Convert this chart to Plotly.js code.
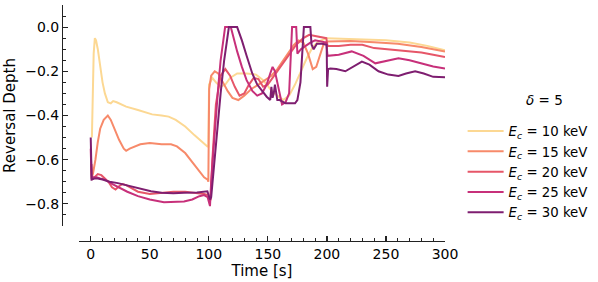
<!DOCTYPE html>
<html>
<head>
<meta charset="utf-8">
<script src="https://cdn.plot.ly/plotly-3.0.1.min.js"></script>
<style>html,body{margin:0;padding:0;background:#fff;}#chart{width:598px;height:282px;}</style>
</head>
<body>
<div id="chart"></div>
<script>
// ---- data ----
const seriesNames = ["<i>E</i><sub><i>c</i></sub> = 10 keV", "<i>E</i><sub><i>c</i></sub> = 15 keV", "<i>E</i><sub><i>c</i></sub> = 20 keV", "<i>E</i><sub><i>c</i></sub> = 25 keV", "<i>E</i><sub><i>c</i></sub> = 30 keV"];
const seriesColors = ["#fcd893", "#f78a6a", "#e65668", "#c7307a", "#7e1e70"];

const t10 = [1,1.5,2.5,3.5,4.5,6,8,10,12,14.5,17,19,22,26,30,40,52,60,66,72,80,88,94,98.8,99.6,100.2,103,106,110,114,118,124,132,140,146,152,158,163,168,173,178,183,188,193,200,215,230,250,270,285,300];
const v10 = [-0.5,-0.35,-0.12,-0.05,-0.06,-0.1,-0.18,-0.25,-0.3,-0.34,-0.345,-0.335,-0.34,-0.35,-0.36,-0.375,-0.395,-0.40,-0.405,-0.42,-0.45,-0.49,-0.52,-0.54,-0.54,-0.26,-0.23,-0.25,-0.27,-0.26,-0.23,-0.21,-0.21,-0.215,-0.24,-0.28,-0.31,-0.33,-0.31,-0.26,-0.2,-0.14,-0.09,-0.065,-0.05,-0.052,-0.055,-0.06,-0.07,-0.085,-0.105];

const t15 = [0.5,1,2,4,6,8,11,14.5,17,20,24,28,30,33,37,42,50,60,68,73,80,86,92,96,99,99.6,100.3,102,105,108,112,116,120,125,130,136,142,148,153,158,163,168,172,176,180,184,188,191,194,197,200,220,240,260,280,300];
const v15 = [-0.62,-0.68,-0.66,-0.6,-0.52,-0.46,-0.42,-0.40,-0.42,-0.46,-0.51,-0.55,-0.56,-0.55,-0.54,-0.53,-0.525,-0.53,-0.53,-0.54,-0.57,-0.61,-0.65,-0.68,-0.69,-0.70,-0.28,-0.22,-0.2,-0.21,-0.25,-0.29,-0.32,-0.33,-0.31,-0.28,-0.26,-0.24,-0.22,-0.19,-0.15,-0.11,-0.08,-0.06,-0.07,-0.12,-0.19,-0.18,-0.13,-0.08,-0.065,-0.063,-0.068,-0.075,-0.09,-0.11];

const t20 = [0.5,1,3,6,9,12,15,18,21,24,27,30,35,40,50,60,70,80,90,96,99.5,100.5,101.5,103,106,110,114,118,122,126,130,134,138,142,146,150,154,158,163,168,174,180,185,190,195,199.5,200.5,210,220,230,240,250,260,270,280,290,300];
const v20 = [-0.62,-0.69,-0.68,-0.665,-0.67,-0.685,-0.70,-0.725,-0.735,-0.72,-0.71,-0.715,-0.73,-0.745,-0.755,-0.75,-0.745,-0.745,-0.75,-0.755,-0.76,-0.79,-0.78,-0.6,-0.35,-0.22,-0.19,-0.22,-0.27,-0.31,-0.3,-0.26,-0.23,-0.235,-0.27,-0.26,-0.23,-0.2,-0.16,-0.12,-0.08,-0.05,-0.035,-0.04,-0.045,-0.05,-0.085,-0.085,-0.08,-0.08,-0.095,-0.1,-0.105,-0.11,-0.115,-0.125,-0.135];

const t25 = [0,0.7,2,5,8,12,18,25,31,40,50,62,70,79,86,92,96,99,101,102,104,106,108,110,112,113.8,118.6,121,124,128,132,137,141,145,149,152,154,156,159,162,165,168,170.5,174,175,178,182,186,190,195,199.5,200.5,210,221,231,241,250,260.6,270,280,290,300];
const v25 = [-0.55,-0.69,-0.68,-0.68,-0.685,-0.69,-0.71,-0.73,-0.745,-0.765,-0.78,-0.793,-0.792,-0.789,-0.78,-0.765,-0.76,-0.77,-0.81,-0.7,-0.55,-0.4,-0.27,-0.15,-0.06,0,0,-0.05,-0.11,-0.18,-0.24,-0.29,-0.31,-0.3,-0.26,-0.21,-0.18,-0.2,-0.28,-0.35,-0.34,-0.3,0,0,-0.12,-0.1,-0.085,-0.07,-0.06,-0.065,-0.07,-0.13,-0.125,-0.11,-0.13,-0.164,-0.155,-0.141,-0.15,-0.165,-0.178,-0.187];

const t30 = [0,0.8,3,6,10,16,23,30,40,51,60,70,79,90,98.8,100,101,102,104,107,110,113,116,117,124,128,132,136.8,141,145,149,152,153,154,155,156,157,158,160,165,173,175,177.6,179,180.5,186,187,188.8,191.5,196,199.8,200.2,201,203,208,215.6,222,229.6,236,243.7,252,260.6,267,274.7,282,290,300];
const v30 = [-0.5,-0.69,-0.685,-0.685,-0.69,-0.70,-0.706,-0.715,-0.73,-0.743,-0.75,-0.752,-0.75,-0.748,-0.743,-0.76,-0.78,-0.77,-0.65,-0.45,-0.3,-0.15,-0.05,0,0,-0.06,-0.13,-0.21,-0.26,-0.29,-0.315,-0.33,-0.27,-0.32,-0.3,-0.26,-0.3,-0.33,-0.33,-0.345,-0.345,-0.33,-0.25,-0.1,0,0,-0.08,-0.1,-0.075,-0.075,-0.08,-0.27,-0.19,-0.187,-0.19,-0.2,-0.18,-0.156,-0.17,-0.2,-0.215,-0.221,-0.21,-0.2,-0.21,-0.225,-0.227];

const xTickVals = [0, 50, 100, 150, 200, 250, 300];
const yTickVals = [0.0, -0.2, -0.4, -0.6, -0.8];
const legendTitle = "<i>δ</i> = 5";
const xTitle = "Time [s]";
const yTitle = "Reversal Depth";

// ---- build ----
const ts = [t10, t15, t20, t25, t30];
const vs = [v10, v15, v20, v25, v30];
const traces = ts.map((t, i) => ({
  x: t, y: vs[i], type: "scatter", mode: "lines",
  name: seriesNames[i], legendgroup: "g" + i,
  line: {color: seriesColors[i], width: 2}
}));

const FAM = "DejaVu Sans";
const f = (s) => ({family: FAM, size: s, color: "#000"});
const layout = {
  width: 598, height: 282,
  margin: {l: 62, r: 151, t: 5, b: 41},
  paper_bgcolor: "#fff", plot_bgcolor: "#fff",
  font: f(14),
  showlegend: true,
  legend: {
    x: 1.046, xanchor: "left", y: 0.53, yanchor: "top",
    font: f(13.3), itemwidth: 36,
    traceorder: "grouped", tracegroupgap: 0,
    bgcolor: "rgba(0,0,0,0)"
  },
  annotations: [{
    text: legendTitle, xref: "paper", yref: "paper",
    x: 1.26, y: (241 - 100) / 236, xanchor: "center", yanchor: "middle",
    showarrow: false, font: f(13.5)
  }],
  xaxis: {
    domain: [0.04416, 1], range: [-10, 300], anchor: "free", position: 0,
    showgrid: false, zeroline: false, showline: true, linecolor: "#222", linewidth: 1.2,
    ticks: "inside", ticklen: 5, tickwidth: 1.2, tickcolor: "#222",
    tickvals: xTickVals, ticktext: xTickVals.map(String),
    tickfont: f(14),
    minor: {dtick: 10, tick0: 0, ticks: "inside", ticklen: 3, tickwidth: 1, tickcolor: "#222", showgrid: false},
    title: {text: xTitle, font: f(15), standoff: 2}
  },
  yaxis: {
    domain: [0.0636, 1], range: [-0.9, 0.1], anchor: "free", position: 0,
    showgrid: false, zeroline: false, showline: true, linecolor: "#222", linewidth: 1.2,
    ticks: "inside", ticklen: 5, tickwidth: 1.2, tickcolor: "#222",
    tickvals: yTickVals, tickformat: ".1f",
    tickfont: f(14),
    minor: {dtick: 0.05, tick0: 0, ticks: "inside", ticklen: 3, tickwidth: 1, tickcolor: "#222", showgrid: false},
    title: {text: yTitle, font: f(15), standoff: 4}
  }
};

Plotly.newPlot("chart", traces, layout, {displayModeBar: false, staticPlot: true});
</script>
</body>
</html>
